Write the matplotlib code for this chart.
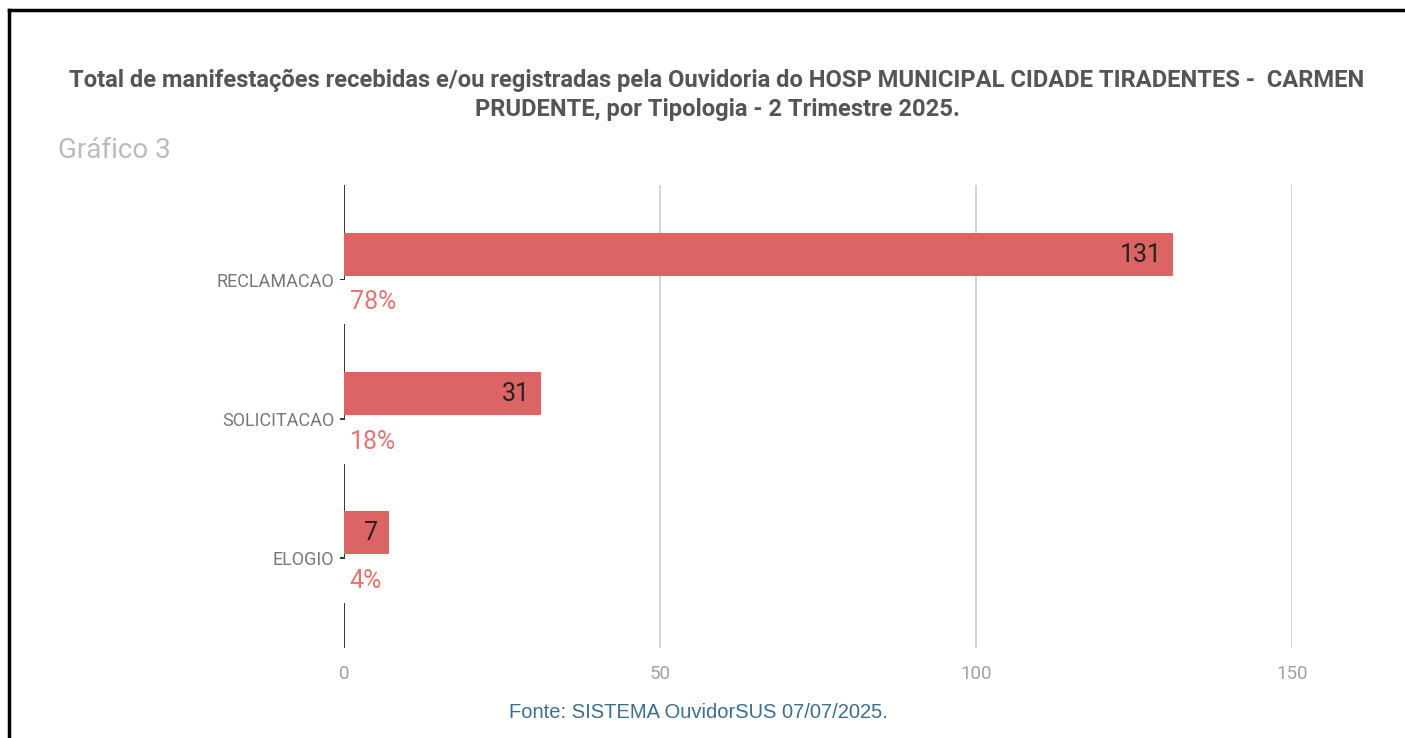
import matplotlib
matplotlib.use("Agg")
import matplotlib.pyplot as plt
import numpy as np
from matplotlib.lines import Line2D

categories = ["RECLAMACAO", "SOLICITACAO", "ELOGIO"]
values = [131, 31, 7]
percent_labels = ["78%", "18%", "4%"]
x_ticks = [0, 50, 100, 150]

title = ("Total de manifestações recebidas e/ou registradas pela Ouvidoria do HOSP MUNICIPAL CIDADE TIRADENTES -  CARMEN\n"
         "PRUDENTE, por Tipologia - 2 Trimestre 2025.")
subtitle = "Gráfico 3"
source = "Fonte: SISTEMA OuvidorSUS 07/07/2025."

BAR = "#dd6464"
PCT = "#e57373"

plt.rcParams["font.family"] = ["Roboto", "DejaVu Sans"]

W, H = 1405, 738
fig = plt.figure(figsize=(W / 100, H / 100), dpi=100)
fig.patch.set_facecolor("white")

ax = fig.add_axes([344 / W, 1 - 648 / H, (1292 - 344) / W, (648 - 185) / H])
y = np.arange(len(categories))
ax.barh(y, values, height=0.29, color=BAR, edgecolor=BAR, linewidth=1.5,
        joinstyle="round", zorder=2)
ax.set_xlim(0, 150)
ax.set_ylim(2.83, -0.5)

for s in ax.spines.values():
    s.set_visible(False)
ax.set_xticks(x_ticks)
ax.set_xticklabels([str(t) for t in x_ticks], color="#a0a0a0", fontsize=13.5)
ax.tick_params(axis="x", length=0, pad=12)
for t in x_ticks[1:]:
    ax.axvline(t, color="#cccccc", lw=1.2, zorder=1)
ax.axvline(0, color="#333333", lw=1.4, zorder=1)

ax.set_yticks(y + 0.18)
ax.set_yticklabels(categories, color="#777777", fontsize=13)
ax.tick_params(axis="y", length=3, width=1.4, color="#333333", pad=4)

for i, (v, p) in enumerate(zip(values, percent_labels)):
    ax.annotate(str(v), xy=(v, i), xytext=(-7, 0), textcoords="offset points",
                ha="right", va="center", fontsize=18, color="#222222", zorder=4)
    ax.annotate(p, xy=(0, i + 0.345), xytext=(4, 0), textcoords="offset points",
                ha="left", va="center", fontsize=18, color=PCT, zorder=4,
                bbox=dict(boxstyle="square,pad=0.4", fc="white", ec="none"))

fig.text(717 / W, 1 - 95 / H, title, ha="center", va="center", fontsize=17.1,
         fontweight="bold", color="#555555", linespacing=1.35)
fig.text(58 / W, 1 - 150 / H, subtitle, ha="left", va="center", fontsize=20,
         color="#bbbbbb")
fig.text(509 / W, 1 - 712 / H, source, ha="left", va="center", fontsize=14.5,
         color="#3e6e8e", family=["Liberation Sans", "DejaVu Sans"])

# outer frame (left and top edges)
fig.add_artist(Line2D([8.5 / W, 8.5 / W], [-0.01, 1 - 10 / H], transform=fig.transFigure,
                      color="black", lw=2.5, clip_on=False))
fig.add_artist(Line2D([8.5 / W, 1.01], [1 - 10 / H, 1 - 10 / H], transform=fig.transFigure,
                      color="black", lw=2.5, clip_on=False))

fig.savefig("out.png", dpi=100, facecolor="white")
